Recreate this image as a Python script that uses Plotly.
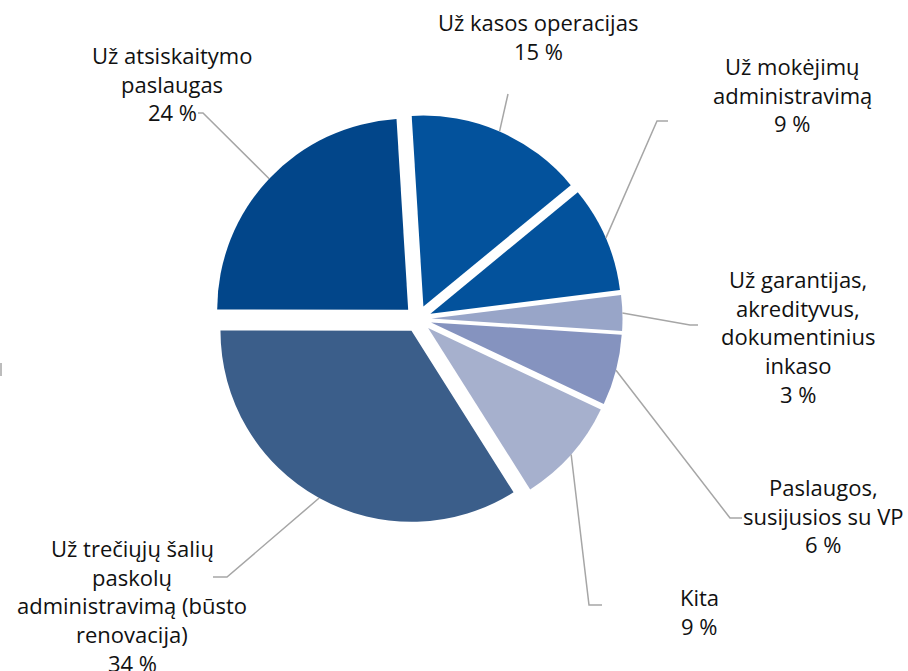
import math
import plotly.graph_objects as go

# ---- data ----
labels = [
    "Už kasos operacijas",
    "Už mokėjimų administravimą",
    "Už garantijas, akredityvus, dokumentinius inkaso",
    "Paslaugos, susijusios su VP",
    "Kita",
    "Už trečiųjų šalių paskolų administravimą (būsto renovacija)",
    "Už atsiskaitymo paslaugas",
]
values = [15, 9, 3, 6, 9, 34, 24]
label_lines = [
    ["Už kasos operacijas"],
    ["Už mokėjimų", "administravimą"],
    ["Už garantijas,", "akredityvus,", "dokumentinius", "inkaso"],
    ["Paslaugos,", "susijusios su VP"],
    ["Kita"],
    ["Už trečiųjų šalių", "paskolų", "administravimą (būsto", "renovacija)"],
    ["Už atsiskaitymo", "paslaugas"],
]
colors = ["#03529C", "#03529C", "#98A5C8", "#8593BF", "#A6B0CD", "#3B5E8A", "#02468A"]

# ---- layout (pixels) ----
W, H = 908, 671
CX, CY = 418, 319          # pie centre
RADIUS = 191               # slice radius
PULL = 0.0707
ROTATION = -3.5
FONT = "Open Sans"
FSIZE = 22
LINE_H = 28.7
# label block: centre x, y of first line
label_pos = [
    (538, 22),
    (792, 66),
    (798, 279),
    (823, 487),
    (699, 597),
    (132, 548),
    (172, 55),
]
# leader elbows: outer points after the slice-edge start
leader_pts = [
    [(508, 94)],
    [(657, 121), (668, 121)],
    [(690, 325), (698, 325)],
    [(730, 518), (742, 518)],
    [(589, 605), (602, 605)],
    [(227, 577), (213, 577)],
    [(203, 113), (198, 113)],
]

def px(x):
    return x / W

def py(y):
    return 1 - y / H

R_box = RADIUS * (1 + PULL)
fig = go.Figure(go.Pie(
    labels=labels,
    values=values,
    sort=False,
    direction="clockwise",
    rotation=ROTATION,
    pull=[PULL] * len(values),
    marker=dict(colors=colors, line=dict(width=0)),
    textinfo="none",
    hoverinfo="label+percent",
    domain=dict(x=[px(CX - R_box), px(CX + R_box)], y=[py(CY + R_box), py(CY - R_box)]),
    showlegend=False,
))

total = sum(values)
annotations = []
shapes = []
cum = 0
for i, v in enumerate(values):
    mid = math.radians(ROTATION + 360 * (cum + v / 2) / total)
    cum += v
    sx = CX + R_box * math.sin(mid)
    sy = CY - R_box * math.cos(mid)
    pts = [(sx, sy)] + leader_pts[i]
    path = "M " + " L ".join(f"{px(x)} {py(y)}" for x, y in pts)
    shapes.append(dict(type="path", path=path, xref="paper", yref="paper",
                       line=dict(color="#A6A6A6", width=1.5)))
    lx, ly = label_pos[i]
    lines = label_lines[i] + [f"{round(100 * v / total)} %"]
    for j, t in enumerate(lines):
        annotations.append(dict(
            text=t, x=px(lx), y=py(ly + j * LINE_H), xref="paper", yref="paper",
            xanchor="center", yanchor="middle", showarrow=False,
            font=dict(family=FONT, size=FSIZE, color="#111111"),
        ))

# small stray tick at the left edge
shapes.append(dict(type="line", x0=px(1), x1=px(1), y0=py(363), y1=py(376),
                   xref="paper", yref="paper", line=dict(color="#A6A6A6", width=1.5)))

fig.update_layout(
    width=W, height=H,
    margin=dict(l=0, r=0, t=0, b=0),
    paper_bgcolor="white",
    plot_bgcolor="white",
    annotations=annotations,
    shapes=shapes,
)
fig.write_html("out.html", config={"displayModeBar": False},
               post_script="document.body.style.margin='0';")
